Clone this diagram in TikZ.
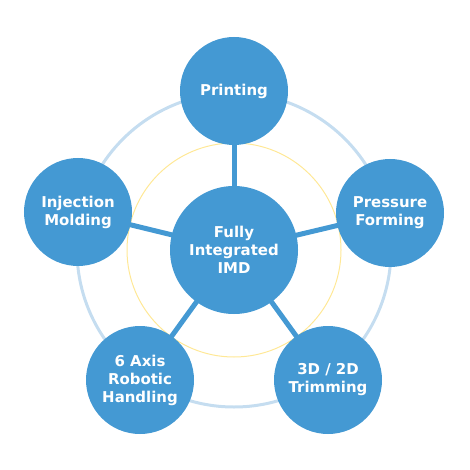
\documentclass[tikz,border=0pt]{standalone}
\usepackage{fontspec}
\setmainfont{DejaVu Sans}
\usetikzlibrary{calc}
\definecolor{imdblue}{RGB}{68,153,211}
\definecolor{ringblue}{RGB}{197,221,240}
\definecolor{ringyellow}{RGB}{255,232,150}
\tikzset{ stage/.style = {circle, fill=imdblue, inner sep=0pt, minimum size=108bp, align=center, text=white, font=\bfseries\fontsize{15}{18}\selectfont},
          hub/.style = {stage, minimum size=128bp},
          link/.style = {imdblue, line width=5bp, shorten <=-2bp, shorten >=-2bp} }

\begin{document}
\begin{tikzpicture}[x=1bp, y=-1bp]
  \useasboundingbox (0,0) rectangle (470,470);
  \coordinate (mid) at (234,250);
  \draw[ringblue, line width=3bp] (mid) circle[radius=157bp];
  \draw[ringyellow, line width=1bp] (mid) circle[radius=107bp];

  \path (mid) node[hub] (imd) {Fully\\Integrated\\IMD}
      (234,91) node[stage] (print) {Printing}
      (390,213) node[stage] (press) {Pressure\\Forming}
      (328,380) node[stage] (trim) {3D / 2D\\Trimming}
      (140,380) node[stage] (robot) {6 Axis\\Robotic\\Handling}
      (78,212) node[stage] (inject) {Injection\\Molding};

  \draw[link] (imd) -- (print);
  \draw[link] (imd) -- (press);
  \draw[link] (imd) -- (trim);
  \draw[link] (imd) -- (robot);
  \draw[link] (imd) -- (inject);
\end{tikzpicture}
\end{document}
